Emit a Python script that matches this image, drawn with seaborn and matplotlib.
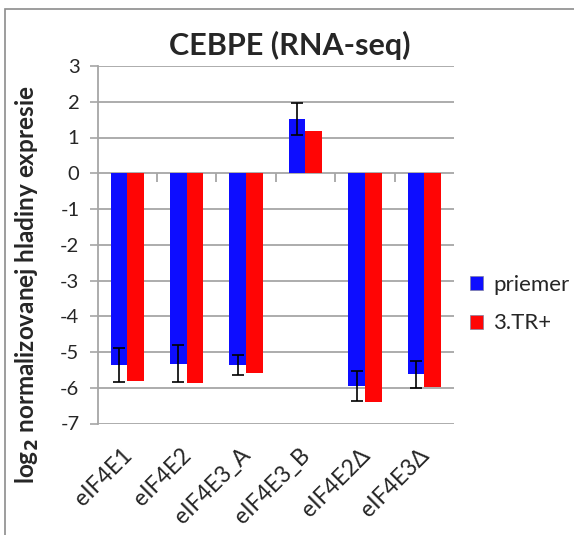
import matplotlib
matplotlib.use("Agg")
import matplotlib.pyplot as plt
import matplotlib.transforms as mtransforms
from matplotlib.patches import Rectangle, Patch
import seaborn as sns
import pandas as pd
import numpy as np

categories = ["eIF4E1", "eIF4E2", "eIF4E3_A", "eIF4E3_B", "eIF4E2\u0394", "eIF4E3\u0394"]
priemer = [-5.36, -5.33, -5.36, 1.52, -5.96, -5.62]
tr3 = [-5.80, -5.86, -5.58, 1.18, -6.40, -5.99]
priemer_err = [0.47, 0.52, 0.28, 0.45, 0.42, 0.38]
series_names = ["priemer", "3.TR+"]
y_ticks = [3, 2, 1, 0, -1, -2, -3, -4, -5, -6, -7]

sns.set_theme(style="white")
plt.rcParams["font.family"] = ["Lato", "DejaVu Sans"]

df = pd.DataFrame({
    "gene": categories * 2,
    "value": priemer + tr3,
    "series": [series_names[0]] * len(categories) + [series_names[1]] * len(categories),
})

fig = plt.figure(figsize=(5.74, 5.35), dpi=100)
ax = fig.add_axes([97.5 / 574, 1 - 423.5 / 535, (454 - 97.5) / 574, (423.5 - 66) / 535])

palette = {"priemer": "#0d0dff", "3.TR+": "#ff0505"}
sns.barplot(data=df, x="gene", y="value", hue="series", order=categories,
            hue_order=series_names, palette=palette, width=0.56, gap=0,
            saturation=1, errorbar=None, ax=ax, legend=False, zorder=3,
            linewidth=0)

# error bars on priemer bars
cont = ax.containers[0]
xs = [p.get_x() + p.get_width() / 2 for p in cont.patches]
ax.errorbar(xs, priemer, yerr=priemer_err, fmt="none", ecolor="black",
            elinewidth=1.2, capsize=4, capthick=1.2, zorder=5)

ax.set_ylim(-7, 3)
ax.set_xlim(-0.5, len(categories) - 0.5)
ax.set_yticks(y_ticks)
ax.set_yticklabels([str(t) for t in y_ticks], fontsize=14.5)
ax.yaxis.grid(True, color="#a6a6a6", linewidth=1.3, zorder=0)
ax.set_axisbelow(True)
ax.tick_params(axis="y", which="major", left=True, length=6, width=1.2,
               color="#a6a6a6", pad=7)
ax.tick_params(axis="x", length=0, pad=2)
for s in ["top", "right", "bottom"]:
    ax.spines[s].set_visible(False)
ax.spines["left"].set_color("#a6a6a6")
ax.spines["left"].set_linewidth(1.3)

# category boundary ticks on the zero line
bounds = np.arange(len(categories) - 1) + 0.5
ax.vlines(bounds, -0.25, 0, colors="#a6a6a6", linewidth=1.3, zorder=2)

ax.set_xlabel("")
ax.set_ylabel("")
ax.set_xticks(range(len(categories)))
ax.set_xticklabels(categories, rotation=45, ha="right", rotation_mode="anchor",
                   fontsize=16.5)
shift = mtransforms.ScaledTranslation(-6 / 100, 0, fig.dpi_scale_trans)
for lab in ax.get_xticklabels():
    lab.set_y(-0.05)
    lab.set_transform(lab.get_transform() + shift)

fig.text(290 / 574, 1 - 45 / 535, "CEBPE (RNA-seq)", ha="center", va="center",
         fontsize=22, fontweight="bold")
fig.text(27 / 574, 1 - 285 / 535, r"log$_\mathbf{2}$ normalizovanej hladiny expresie",
         rotation=90, ha="center", va="center", fontsize=17.5, fontweight="bold")

handles = [Patch(facecolor=palette[n], edgecolor="#7f7f9f", linewidth=0.5) for n in series_names]
fig.legend(handles, series_names, loc="center left",
           bbox_to_anchor=(461 / 574, 1 - 304 / 535), frameon=False,
           fontsize=16, handlelength=0.6, handleheight=0.6, handletextpad=0.45,
           labelspacing=0.85, borderaxespad=0)

fig.patches.append(Rectangle((4.5 / 574, -0.1), 1.2, 1 - 9 / 535 + 0.1,
                             transform=fig.transFigure, fill=False,
                             edgecolor="#8c8c8c", linewidth=1.2))

fig.savefig("out.png", dpi=100)
